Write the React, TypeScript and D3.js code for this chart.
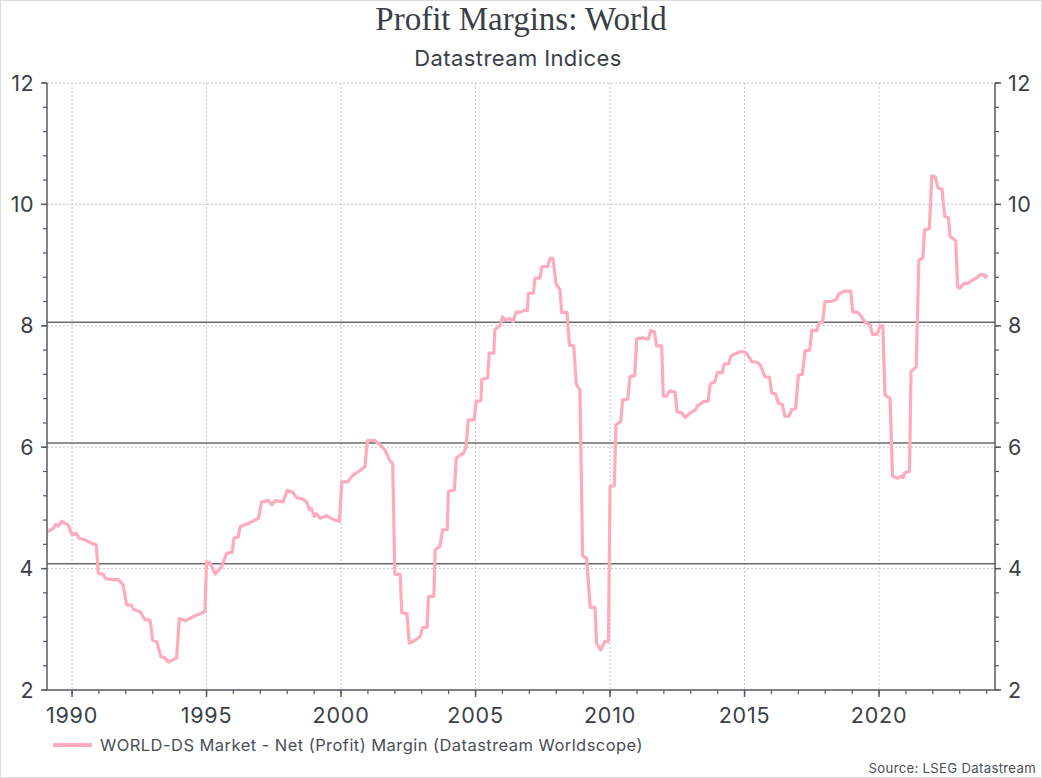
import React from "react";
import * as d3 from "d3";

const dates: number[] = [
  1989.10, 1989.30, 1989.40, 1989.50, 1989.62, 1989.85, 1990.00, 1990.15, 1990.27, 1990.50,
  1990.70, 1990.90, 1990.98, 1991.15, 1991.26, 1991.50, 1991.72, 1991.90, 1992.03, 1992.20,
  1992.28, 1992.53, 1992.71, 1992.90, 1993.00, 1993.15, 1993.30, 1993.45, 1993.58, 1993.89,
  1993.99, 1994.20, 1994.51, 1994.94, 1995.00, 1995.12, 1995.32, 1995.56, 1995.75, 1995.95,
  1996.02, 1996.18, 1996.25, 1996.40, 1996.55, 1996.93, 1997.05, 1997.30, 1997.42, 1997.55,
  1997.85, 1998.00, 1998.20, 1998.35, 1998.55, 1998.72, 1998.82, 1998.90, 1999.00, 1999.10,
  1999.22, 1999.47, 1999.71, 1999.94, 2000.03, 2000.25, 2000.40, 2000.55, 2000.71, 2000.89,
  2000.98, 2001.25, 2001.45, 2001.64, 2001.80, 2001.92, 2002.00, 2002.20, 2002.26, 2002.45,
  2002.54, 2002.75, 2002.94, 2003.03, 2003.20, 2003.25, 2003.45, 2003.50, 2003.68, 2003.77,
  2003.95, 2003.99, 2004.22, 2004.28, 2004.42, 2004.55, 2004.65, 2004.73, 2004.95, 2005.02,
  2005.20, 2005.23, 2005.45, 2005.51, 2005.68, 2005.72, 2005.91, 2006.00, 2006.10, 2006.28,
  2006.40, 2006.50, 2006.70, 2006.84, 2006.93, 2006.96, 2007.15, 2007.21, 2007.40, 2007.46,
  2007.68, 2007.77, 2007.88, 2007.99, 2008.14, 2008.20, 2008.40, 2008.49, 2008.65, 2008.74,
  2008.88, 2008.98, 2009.13, 2009.26, 2009.44, 2009.50, 2009.65, 2009.81, 2009.94, 2010.00,
  2010.16, 2010.22, 2010.40, 2010.47, 2010.66, 2010.74, 2010.92, 2010.99, 2011.20, 2011.42,
  2011.51, 2011.65, 2011.73, 2011.92, 2011.98, 2012.10, 2012.22, 2012.42, 2012.49, 2012.65,
  2012.79, 2012.97, 2013.16, 2013.25, 2013.47, 2013.65, 2013.72, 2013.90, 2013.99, 2014.17,
  2014.24, 2014.42, 2014.49, 2014.71, 2014.93, 2015.07, 2015.27, 2015.47, 2015.60, 2015.76,
  2015.93, 2016.01, 2016.15, 2016.26, 2016.40, 2016.50, 2016.65, 2016.75, 2016.90, 2017.00,
  2017.15, 2017.25, 2017.42, 2017.50, 2017.68, 2017.78, 2017.90, 2017.99, 2018.20, 2018.40,
  2018.50, 2018.70, 2018.95, 2019.02, 2019.20, 2019.30, 2019.41, 2019.54, 2019.67, 2019.75,
  2019.92, 2020.04, 2020.14, 2020.22, 2020.41, 2020.50, 2020.70, 2020.80, 2020.90, 2020.95,
  2021.13, 2021.19, 2021.38, 2021.48, 2021.63, 2021.69, 2021.87, 2021.96, 2022.10, 2022.19,
  2022.34, 2022.44, 2022.58, 2022.64, 2022.85, 2022.92, 2023.00, 2023.16, 2023.31, 2023.50,
  2023.66, 2023.78, 2023.90, 2023.95, 2024.02,
];

const margins: number[] = [
  4.61, 4.66, 4.73, 4.70, 4.78, 4.72, 4.56, 4.58, 4.50, 4.47,
  4.42, 4.39, 3.92, 3.91, 3.83, 3.82, 3.82, 3.73, 3.40, 3.40,
  3.33, 3.29, 3.16, 3.15, 2.82, 2.80, 2.55, 2.53, 2.46, 2.53,
  3.18, 3.14, 3.21, 3.29, 4.11, 4.10, 3.91, 4.03, 4.25, 4.27,
  4.50, 4.52, 4.69, 4.72, 4.74, 4.83, 5.10, 5.12, 5.05, 5.12,
  5.10, 5.29, 5.26, 5.17, 5.15, 5.10, 4.97, 4.99, 4.86, 4.90,
  4.83, 4.87, 4.81, 4.78, 5.43, 5.43, 5.52, 5.57, 5.62, 5.68,
  6.11, 6.11, 6.04, 5.95, 5.79, 5.73, 3.91, 3.90, 3.27, 3.26,
  2.77, 2.82, 2.88, 3.03, 3.03, 3.54, 3.54, 4.31, 4.37, 4.64,
  4.64, 5.27, 5.30, 5.82, 5.87, 5.90, 6.01, 6.45, 6.45, 6.75,
  6.77, 7.12, 7.14, 7.55, 7.55, 7.94, 8.00, 8.15, 8.10, 8.12,
  8.07, 8.22, 8.23, 8.26, 8.25, 8.53, 8.54, 8.78, 8.79, 8.97,
  8.98, 9.11, 9.11, 8.70, 8.59, 8.22, 8.22, 7.68, 7.67, 7.05,
  6.93, 4.21, 4.17, 3.36, 3.36, 2.77, 2.66, 2.80, 2.80, 5.35,
  5.37, 6.37, 6.42, 6.78, 6.79, 7.16, 7.18, 7.79, 7.80, 7.78,
  7.92, 7.90, 7.67, 7.67, 6.84, 6.84, 6.93, 6.91, 6.58, 6.57,
  6.49, 6.56, 6.61, 6.68, 6.75, 6.76, 7.04, 7.08, 7.23, 7.23,
  7.37, 7.38, 7.50, 7.55, 7.58, 7.55, 7.41, 7.40, 7.34, 7.16,
  7.15, 6.89, 6.88, 6.72, 6.71, 6.51, 6.51, 6.62, 6.64, 7.19,
  7.20, 7.59, 7.60, 7.93, 7.92, 8.05, 8.06, 8.40, 8.40, 8.43,
  8.52, 8.57, 8.57, 8.23, 8.22, 8.18, 8.10, 8.04, 8.02, 7.86,
  7.86, 8.00, 8.00, 6.86, 6.80, 5.52, 5.49, 5.52, 5.50, 5.58,
  5.60, 7.25, 7.32, 9.08, 9.12, 9.58, 9.60, 10.47, 10.45, 10.27,
  10.25, 9.80, 9.78, 9.47, 9.40, 8.64, 8.62, 8.70, 8.70, 8.76,
  8.80, 8.85, 8.84, 8.80, 8.84,
];

const referenceLevels: number[] = [8.06, 6.07, 4.08];
const yTicks: number[] = [2, 4, 6, 8, 10, 12];
const xTicks: number[] = [1990, 1995, 2000, 2005, 2010, 2015, 2020];

const titleText = "Profit Margins: World";
const subtitleText = "Datastream Indices";
const legendText = "WORLD-DS Market - Net (Profit) Margin (Datastream Worldscope)";
const sourceText = "Source: LSEG Datastream";

const W = 1042;
const H = 778;
const left = 47;
const right = 995;
const top = 83;
const bottom = 690;
const lineColor = "#ffabbb";
const axisColor = "#555a62";
const textColor = "#3a3f47";
const sans = "Inter, 'Noto Sans', sans-serif";

export default function App() {
  const x = d3.scaleLinear().domain([1989.07, 2024.31]).range([left, right]);
  const y = d3.scaleLinear().domain([2, 12]).range([bottom, top]);
  const pts: [number, number][] = dates.map((d, i) => [d, margins[i]]);
  const line = d3
    .line<[number, number]>()
    .x((d) => x(d[0]))
    .y((d) => y(d[1]));

  const minorY = d3.range(2, 12.001, 0.4);
  const minorX = d3.range(1990, 2025, 1);

  return (
    <svg
      width={W}
      height={H}
      style={{ position: "absolute", left: 0, top: 0, background: "#fff" }}
      fontFamily={sans}
    >
      <rect x={0.5} y={0.5} width={W - 1} height={H - 1} fill="#fff" stroke="#dcdcdc" />
      <text x={521} y={30} textAnchor="middle" fontFamily="'Liberation Serif', 'DejaVu Serif', serif" fontSize={33} fill={textColor}>
        {titleText}
      </text>
      <text x={518} y={66} textAnchor="middle" fontSize={22} letterSpacing={0.4} fill={textColor}>
        {subtitleText}
      </text>

      {/* grid */}
      {yTicks.filter((t) => t > 2).map((t) => (
        <line key={"gy" + t} x1={left} x2={right} y1={y(t)} y2={y(t)} stroke="#c8c8c8" strokeDasharray="2,2" />
      ))}
      {xTicks.map((t) => (
        <line key={"gx" + t} x1={x(t)} x2={x(t)} y1={top} y2={bottom} stroke="#c8c8c8" strokeDasharray="2,2" />
      ))}

      {/* reference lines */}
      {referenceLevels.map((v) => (
        <line key={"r" + v} x1={left} x2={right} y1={y(v)} y2={y(v)} stroke="#6a6a6a" strokeWidth={1.5} />
      ))}

      {/* data line */}
      <path d={line(pts) || ""} fill="none" stroke={lineColor} strokeWidth={3.2} strokeLinejoin="round" />

      {/* axes */}
      <line x1={left} x2={left} y1={top} y2={bottom} stroke={axisColor} strokeWidth={1.5} />
      <line x1={right} x2={right} y1={top} y2={bottom} stroke={axisColor} strokeWidth={1.5} />
      <line x1={left} x2={right} y1={bottom} y2={bottom} stroke={axisColor} strokeWidth={1.5} />
      {minorY.map((t) => (
        <g key={"my" + t}>
          <line x1={left - 4} x2={left} y1={y(t)} y2={y(t)} stroke={axisColor} strokeWidth={1.2} />
          <line x1={right} x2={right + 4} y1={y(t)} y2={y(t)} stroke={axisColor} strokeWidth={1.2} />
        </g>
      ))}
      {yTicks.map((t) => (
        <g key={"ty" + t}>
          <line x1={left - 6} x2={left} y1={y(t)} y2={y(t)} stroke={axisColor} strokeWidth={1.5} />
          <line x1={right} x2={right + 6} y1={y(t)} y2={y(t)} stroke={axisColor} strokeWidth={1.5} />
          <text x={left - 13} y={y(t)} dy="0.35em" textAnchor="end" fontSize={21.5} letterSpacing={0.5} fill={textColor}>
            {t}
          </text>
          <text x={right + 13} y={y(t)} dy="0.35em" textAnchor="start" fontSize={21.5} letterSpacing={0.5} fill={textColor}>
            {t}
          </text>
        </g>
      ))}
      {minorX.map((t) => (
        <line key={"mx" + t} x1={x(t)} x2={x(t)} y1={bottom} y2={bottom + 4} stroke={axisColor} strokeWidth={1.2} />
      ))}
      {xTicks.map((t) => (
        <g key={"tx" + t}>
          <line x1={x(t)} x2={x(t)} y1={bottom} y2={bottom + 7} stroke={axisColor} strokeWidth={1.5} />
          <text x={x(t)} y={723} textAnchor="middle" fontSize={21.5} letterSpacing={0.8} fill={textColor}>
            {t}
          </text>
        </g>
      ))}

      {/* legend */}
      <line x1={53} x2={92} y1={745} y2={745} stroke={lineColor} strokeWidth={4} />
      <text x={100} y={751} fontSize={16.5} letterSpacing={0.45} fill="#4a4f57">
        {legendText}
      </text>
      <text x={1036} y={773} textAnchor="end" fontSize={13.2} letterSpacing={0.3} fill="#4a4f57">
        {sourceText}
      </text>
    </svg>
  );
}
